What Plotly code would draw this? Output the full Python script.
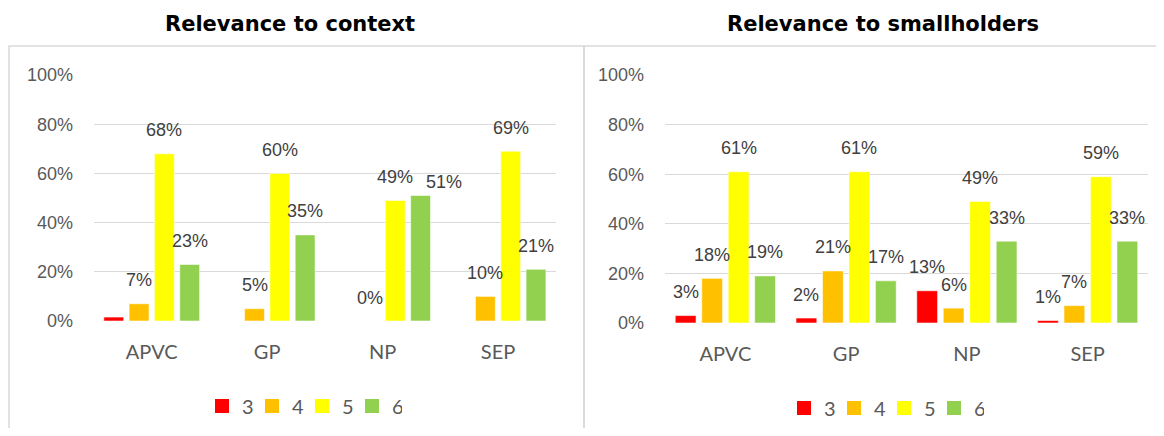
import plotly.graph_objects as go

categories = ["APVC", "GP", "NP", "SEP"]
series_names = ["3", "4", "5", "6"]
series_colors = ["#FF0000", "#FFC000", "#FFFF00", "#92D050"]

# Relevance to context (fractions); None = no bar
context_3 = [0.016, None, None, None]
context_4 = [0.07, 0.05, 0.0, 0.10]
context_5 = [0.68, 0.60, 0.49, 0.69]
context_6 = [0.23, 0.35, 0.51, 0.21]
context_labels_3 = ["", "", "", ""]
context_labels_4 = ["7%", "5%", "0%", "10%"]
context_labels_5 = ["68%", "60%", "49%", "69%"]
context_labels_6 = ["23%", "35%", "51%", "21%"]

# Relevance to smallholders (fractions)
small_3 = [0.03, 0.02, 0.13, 0.01]
small_4 = [0.18, 0.21, 0.06, 0.07]
small_5 = [0.61, 0.61, 0.49, 0.59]
small_6 = [0.19, 0.17, 0.33, 0.33]
small_labels_3 = ["3%", "2%", "13%", "1%"]
small_labels_4 = ["18%", "21%", "6%", "7%"]
small_labels_5 = ["61%", "61%", "49%", "59%"]
small_labels_6 = ["19%", "17%", "33%", "33%"]

y_tick_vals = [0, 0.2, 0.4, 0.6, 0.8, 1.0]
y_tick_text = ["0%", "20%", "40%", "60%", "80%", "100%"]

panel_titles = ["Relevance to context", "Relevance to smallholders"]

# page has an 8px body margin; figure is sized to fit the window inside it
PAGE_MARGIN = 8
W, H = 1164 - 2 * PAGE_MARGIN, 436 - 2 * PAGE_MARGIN
BARGAP = 0.123
GROUPGAP = 0.215

LABEL_FONT = dict(family="Liberation Sans, Arial, sans-serif", size=18, color="#404040")
TICK_FONT = dict(family="Liberation Sans, Arial, sans-serif", size=18, color="#595959")
CAT_FONT = dict(family="Lato, Calibri, sans-serif", size=20, color="#595959")
GRID = "#D9D9D9"

# label nudges (pixels) for labels Excel moved to avoid overlap: (panel, series, category) -> (dx, dy)
label_nudge = {(0, 3, 2): (23, -10)}

fig = go.Figure()

panels = [
    ([context_3, context_4, context_5, context_6],
     [context_labels_3, context_labels_4, context_labels_5, context_labels_6]),
    ([small_3, small_4, small_5, small_6],
     [small_labels_3, small_labels_4, small_labels_5, small_labels_6]),
]

axes = [("x", "y"), ("x2", "y2")]
legends = ["legend", "legend2"]

for p, (vals, labels) in enumerate(panels):
    xa, ya = axes[p]
    for s in range(4):
        fig.add_trace(go.Bar(
            x=categories, y=vals[s], name=series_names[s],
            marker=dict(color=series_colors[s], line=dict(color="rgba(255,255,255,0.55)", width=1)),
            xaxis=xa, yaxis=ya, showlegend=False, hoverinfo="skip",
        ))
    for s in range(4):
        fig.add_trace(go.Scatter(
            x=[None], y=[None], mode="markers", name=series_names[s],
            marker=dict(symbol="square", size=14, color=series_colors[s]),
            xaxis=xa, yaxis=ya, legend=legends[p], showlegend=True,
        ))
    slot = (1 - BARGAP) / 4
    for s in range(4):
        for c in range(4):
            txt = labels[s][c]
            v = vals[s][c]
            if not txt or v is None:
                continue
            dx, dy = label_nudge.get((p, s, c), (0, 0))
            fig.add_annotation(
                x=c + (s - 1.5) * slot, y=v, xref=xa, yref=ya,
                text=txt, showarrow=False, font=LABEL_FONT,
                xanchor="center", yanchor="middle",
                xshift=dx, yshift=23.5 + dy,
            )

# geometry in page pixels (converted to figure pixels below)
left_x = (94, 556)
right_x = (665, 1148)
left_y = (75, 321)
right_y = (75, 323)

def px_x(a):
    return (a - PAGE_MARGIN) / W

def px_y(a):
    return 1 - (a - PAGE_MARGIN) / H

common_x = dict(type="category", showgrid=False, showline=False, zeroline=False,
                ticks="", tickfont=CAT_FONT, ticklabelstandoff=17, fixedrange=True,
                automargin=False)
common_y = dict(range=[0, 1], tickvals=y_tick_vals, ticktext=y_tick_text, showgrid=True,
                gridcolor=GRID, gridwidth=1.3, zeroline=False, showline=False,
                tickfont=TICK_FONT, ticks="", ticklabelstandoff=20, fixedrange=True,
                automargin=False)

legend_common = dict(orientation="h", xanchor="center", yanchor="middle",
                     font=CAT_FONT, itemwidth=30, entrywidth=5, bgcolor="rgba(0,0,0,0)",
                     itemclick=False, itemdoubleclick=False)

fig.update_layout(
    width=W, height=H,
    margin=dict(l=0, r=0, t=0, b=0, pad=0, autoexpand=False),
    paper_bgcolor="white", plot_bgcolor="white",
    barmode="group", bargap=BARGAP, bargroupgap=GROUPGAP,
    xaxis=dict(domain=[px_x(left_x[0]), px_x(left_x[1])], anchor="y", **common_x),
    yaxis=dict(domain=[px_y(left_y[1]), px_y(left_y[0])], anchor="x", **common_y),
    xaxis2=dict(domain=[px_x(right_x[0]), px_x(right_x[1])], anchor="y2", **common_x),
    yaxis2=dict(domain=[px_y(right_y[1]), px_y(right_y[0])], anchor="x2", **common_y),
    legend=dict(x=px_x(302), y=px_y(406), **legend_common),
    legend2=dict(x=px_x(884), y=px_y(408), **legend_common),
    shapes=[
        dict(type="rect", xref="paper", yref="paper",
             x0=px_x(9), x1=px_x(584), y0=-0.1, y1=px_y(46),
             line=dict(color=GRID, width=1.5), layer="below"),
        dict(type="rect", xref="paper", yref="paper",
             x0=px_x(584), x1=1.1, y0=-0.1, y1=px_y(46),
             line=dict(color=GRID, width=1.5), layer="below"),
    ],
)

title_centers = [290, 883]
for t, cx in zip(panel_titles, title_centers):
    fig.add_annotation(
        x=px_x(cx), y=px_y(24), xref="paper", yref="paper",
        text="<b>" + t + "</b>", showarrow=False,
        font=dict(family="DejaVu Sans, Verdana, sans-serif", size=21, color="#000000"),
        xanchor="center", yanchor="middle",
    )

fig.write_html("out.html")
